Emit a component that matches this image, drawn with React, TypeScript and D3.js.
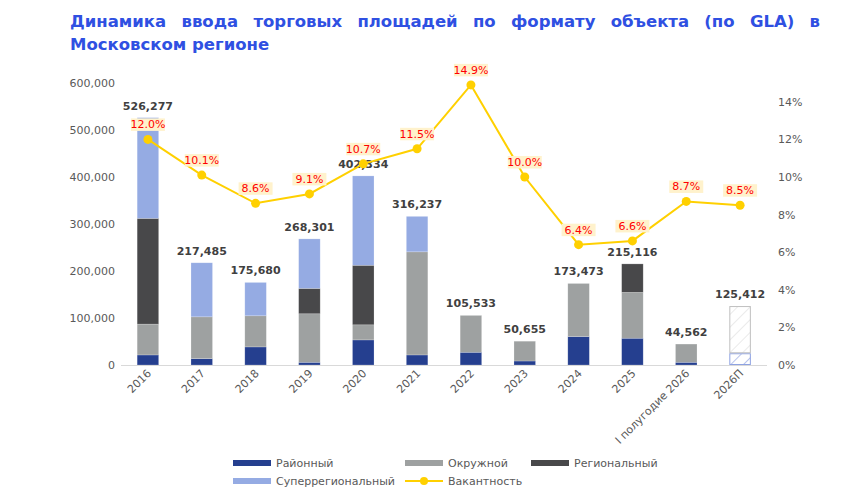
import React, { useEffect, useRef, useState } from 'react';
import * as d3 from 'd3';

// Ввод торговых площадей по формату объекта, кв. м GLA
const categories = ['2016', '2017', '2018', '2019', '2020', '2021', '2022', '2023', '2024', '2025', 'I полугодие 2026', '2026П'];
const rayonny = [21400, 13500, 38500, 5800, 53400, 21400, 27100, 8500, 60500, 57000, 5800, 25000];
const okruzhnoy = [65600, 89000, 66200, 103200, 32100, 219400, 78433, 42155, 112973, 97500, 38762, 100412];
const regionalny = [225000, 0, 0, 54000, 126700, 0, 0, 0, 0, 60616, 0, 0];
const superregionalny = [214277, 114985, 70980, 105301, 190134, 75437, 0, 0, 0, 0, 0, 0];
// Вакантность, %
const vacancy = [12.0, 10.1, 8.6, 9.1, 10.7, 11.5, 14.9, 10.0, 6.4, 6.6, 8.7, 8.5];
const forecastCategory = '2026П';

const leftTicks = [0, 100000, 200000, 300000, 400000, 500000, 600000];
const rightTicks = [0, 2, 4, 6, 8, 10, 12, 14];

const titleLine1 = 'Динамика ввода торговых площадей по формату объекта (по GLA) в';
const titleLine2 = 'Московском регионе';
const vacancyName = 'Вакантность';

const W = 862;
const H = 499;
const plot = { left: 121, right: 767, top: 83, bottom: 365 };

const colors = {
  rayonny: '#253F8F',
  okruzhnoy: '#9EA1A1',
  regionalny: '#48484A',
  superregionalny: '#95ABE3',
  vacancy: '#FFD000',
  axisText: '#595959',
  valueText: '#404040',
  title: '#2F50E2',
};

const seriesDefs = [
  { key: 'rayonny', name: 'Районный', values: rayonny, color: colors.rayonny },
  { key: 'okruzhnoy', name: 'Окружной', values: okruzhnoy, color: colors.okruzhnoy },
  { key: 'regionalny', name: 'Региональный', values: regionalny, color: colors.regionalny },
  { key: 'superregionalny', name: 'Суперрегиональный', values: superregionalny, color: colors.superregionalny },
];

const axisFont = '"DejaVu Sans", Verdana, sans-serif';

export default function App() {
  const line1Ref = useRef<SVGTextElement>(null);
  const [wordSpacing, setWordSpacing] = useState(0);

  useEffect(() => {
    const el = line1Ref.current;
    if (!el) return;
    el.style.wordSpacing = '0px';
    const natural = el.getComputedTextLength();
    const gaps = titleLine1.split(' ').length - 1;
    const target = 750;
    setWordSpacing(Math.max(0, (target - natural) / gaps));
  }, []);

  const x = d3.scaleBand<string>()
    .domain(categories)
    .range([plot.left, plot.right])
    .paddingInner(0.6)
    .paddingOuter(0.3);
  const y = d3.scaleLinear().domain([0, 600000]).range([plot.bottom, plot.top]);
  const y2 = d3.scaleLinear().domain([0, 15]).range([plot.bottom, plot.top]);

  const fmtThousands = d3.format(',');
  const fmtPct = (v: number) => `${d3.format('.1f')(v)}%`;

  const table = categories.map((c, i) => {
    const row: Record<string, number | string> = { category: c };
    seriesDefs.forEach((s) => (row[s.key] = s.values[i]));
    return row;
  });
  const stacked = d3.stack<Record<string, number | string>>()
    .keys(seriesDefs.map((s) => s.key))
    .value((d, k) => d[k] as number)(table);
  const totals = categories.map((_, i) => d3.sum(seriesDefs, (s) => s.values[i]));

  const line = d3.line<number>()
    .x((_, i) => (x(categories[i]) as number) + x.bandwidth() / 2)
    .y((d) => y2(d));

  const bw = x.bandwidth();

  const legendItems = [
    { name: seriesDefs[0].name, color: seriesDefs[0].color, lx: 233, ly: 463 },
    { name: seriesDefs[1].name, color: seriesDefs[1].color, lx: 405, ly: 463 },
    { name: seriesDefs[2].name, color: seriesDefs[2].color, lx: 531, ly: 463 },
    { name: seriesDefs[3].name, color: seriesDefs[3].color, lx: 233, ly: 481 },
  ];

  return (
    <svg width={W} height={H} style={{ position: 'absolute', left: 0, top: 0, background: '#fff' }}>
      <defs>
        <pattern id="hatchGray" patternUnits="userSpaceOnUse" width="9" height="9" patternTransform="rotate(45)">
          <line x1="0" y1="0" x2="0" y2="9" stroke="#D6D6D6" strokeWidth="1" />
        </pattern>
        <pattern id="hatchBlue" patternUnits="userSpaceOnUse" width="9" height="9" patternTransform="rotate(45)">
          <line x1="0" y1="0" x2="0" y2="9" stroke="#6F88D9" strokeWidth="1" />
        </pattern>
      </defs>
      <rect width={W} height={H} fill="#fff" />

      {/* title */}
      <g fontFamily={axisFont} fontWeight="bold" fontSize={16.5} fill={colors.title}>
        <text ref={line1Ref} x={70} y={27} style={{ wordSpacing: `${wordSpacing}px` }}>{titleLine1}</text>
        <text x={70} y={50}>{titleLine2}</text>
      </g>

      {/* left axis */}
      <g fontFamily={axisFont} fontSize={11} fill={colors.axisText}>
        {leftTicks.map((t) => (
          <text key={t} x={115} y={y(t) + 4} textAnchor="end">{fmtThousands(t)}</text>
        ))}
      </g>

      {/* right axis */}
      <g fontFamily={axisFont} fontSize={11} fill={colors.axisText}>
        {rightTicks.map((t) => (
          <text key={t} x={778} y={y2(t) + 4}>{`${t}%`}</text>
        ))}
      </g>

      {/* stacked bars */}
      {stacked.map((layer, li) => (
        <g key={layer.key}>
          {layer.map((d, i) => {
            const h = y(d[0]) - y(d[1]);
            if (h <= 0) return null;
            const cx = x(categories[i]) as number;
            const isForecast = categories[i] === forecastCategory;
            if (isForecast) {
              const blue = seriesDefs[li].key === 'rayonny';
              return (
                <rect key={i} x={cx + 0.5} y={y(d[1]) + 0.5} width={bw - 1} height={h - 1}
                  fill={blue ? 'url(#hatchBlue)' : 'url(#hatchGray)'}
                  stroke={blue ? '#8EA2E2' : '#BFBFBF'} strokeWidth={1} />
              );
            }
            return (
              <rect key={i} x={cx} y={y(d[1])} width={bw} height={h}
                fill={seriesDefs[li].color} stroke="#fff" strokeOpacity={0.35} strokeWidth={0.6} />
            );
          })}
        </g>
      ))}

      {/* baseline */}
      <line x1={plot.left} x2={plot.right} y1={plot.bottom + 0.5} y2={plot.bottom + 0.5} stroke="#D9D9D9" strokeWidth={1} />

      {/* totals */}
      <g fontFamily={axisFont} fontSize={11} fontWeight="bold" fill={colors.valueText} textAnchor="middle">
        {totals.map((t, i) => (
          <text key={i} x={(x(categories[i]) as number) + bw / 2} y={y(t) - 8}>{fmtThousands(t)}</text>
        ))}
      </g>

      {/* vacancy line */}
      <path d={line(vacancy) || ''} fill="none" stroke={colors.vacancy} strokeWidth={2} />
      {vacancy.map((v, i) => (
        <circle key={i} cx={(x(categories[i]) as number) + bw / 2} cy={y2(v)} r={4.5} fill={colors.vacancy} />
      ))}
      <g fontFamily={axisFont} fontSize={11} fill="#FF0000" textAnchor="middle">
        {vacancy.map((v, i) => {
          const cx = (x(categories[i]) as number) + bw / 2;
          const cy = y2(v) - 11;
          return (
            <g key={i}>
              <rect x={cx - 17} y={cy - 10} width={34} height={12.5} fill="#FFF2CC" />
              <text x={cx} y={cy}>{fmtPct(v)}</text>
            </g>
          );
        })}
      </g>

      {/* category labels */}
      <g fontFamily={axisFont} fontSize={11} fill={colors.axisText}>
        {categories.map((c) => {
          const cx = (x(c) as number) + bw / 2 + 4;
          return (
            <text key={c} x={cx} y={374} textAnchor="end" transform={`rotate(-45, ${cx}, 374)`}>{c}</text>
          );
        })}
      </g>

      {/* legend */}
      <g fontFamily={axisFont} fontSize={11} fill={colors.axisText}>
        {legendItems.map((it) => (
          <g key={it.name}>
            <rect x={it.lx} y={it.ly - 3} width={38} height={6} fill={it.color} />
            <text x={it.lx + 43} y={it.ly + 4}>{it.name}</text>
          </g>
        ))}
        <g>
          <line x1={405} x2={443} y1={481} y2={481} stroke={colors.vacancy} strokeWidth={2} />
          <circle cx={424} cy={481} r={4} fill={colors.vacancy} />
          <text x={448} y={485}>{vacancyName}</text>
        </g>
      </g>
    </svg>
  );
}
